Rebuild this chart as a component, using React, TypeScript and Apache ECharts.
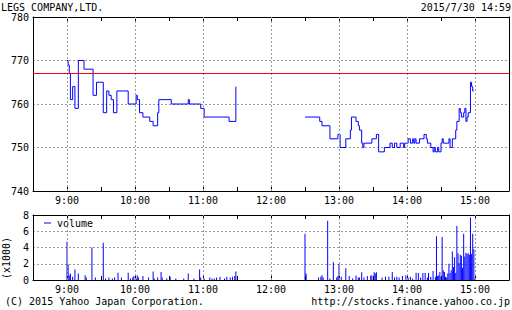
import { useEffect, useRef } from 'react';
import * as echarts from 'echarts';

const FONT = '"DejaVu Sans Mono", monospace';
const BASE = 540; // 9:00 expressed in minutes of the day

const titleText = 'LEGS COMPANY,LTD.';
const dateText = '2015/7/30 14:59';
const copyrightText = '(C) 2015 Yahoo Japan Corporation.';
const urlText = 'http://stocks.finance.yahoo.co.jp';

// [minutes after 9:00, price] at each change of price
const morningPrice: [number, number][] = [
  [0, 770], [1, 769], [2, 767], [3, 761], [5, 764], [7, 759], [10, 770], [15, 768],
  [23, 762], [26, 765], [32, 758], [35, 763], [37, 762], [39, 761], [41, 758], [44, 763],
  [54, 760], [61, 762], [62, 761], [64, 758], [67, 757], [73, 756], [76, 755], [80, 758],
  [81, 761], [92, 760], [107, 761], [108, 760], [118, 759], [121, 757], [143, 756], [149, 764],
];
const afternoonPrice: [number, number][] = [
  [210, 757], [223, 756], [225, 755], [232, 752], [239, 753], [241, 750], [246, 752], [250, 754],
  [251, 757], [255, 756], [257, 755], [258, 754], [260, 751], [261, 750], [262, 751], [269, 752],
  [273, 753], [275, 749], [280, 750], [285, 751], [287, 750], [289, 751], [291, 750], [294, 751],
  [297, 750], [298, 751], [301, 752], [303, 751], [305, 752], [306, 751], [307, 752], [308, 751],
  [311, 752], [315, 753], [317, 752], [318, 751], [321, 750], [323, 749], [324, 750], [325, 749],
  [327, 750], [328, 749], [330, 751], [331, 752], [332, 751], [337, 752], [338, 750], [340, 752],
  [343, 754], [344, 756], [346, 759], [347, 758], [348, 757], [350, 758], [351, 759], [352, 756],
  [353, 757], [354, 758], [356, 765], [357, 764], [358, 763], [359, 763],
];
const previousClose = 767;

// [minutes after 9:00, volume in thousands]
const volume: [number, number][] = [
  [0, 4.7], [1, 1.9], [2, 0.6], [3, 0.8], [5, 0.4], [7, 1.3], [10, 0.8], [16, 0.6], [17, 0.3],
  [22, 4.0], [25, 0.3], [32, 4.6], [34, 0.2], [37, 0.3], [40, 0.2], [42, 0.3], [45, 0.9],
  [48, 0.3], [54, 0.9], [56, 0.2], [58, 0.3], [59, 0.5], [61, 0.2], [62, 0.6], [63, 0.3],
  [67, 0.5], [72, 0.3], [76, 1.05], [77, 0.2], [80, 0.3], [83, 1.0], [84, 0.3], [88, 0.2],
  [91, 0.4], [96, 0.2], [103, 0.2], [107, 0.8], [112, 0.2], [117, 1.3], [118, 0.3], [121, 0.2],
  [126, 0.3], [128, 0.2], [130, 0.2], [132, 0.3], [135, 0.4], [139, 0.2], [141, 0.4], [144, 0.3],
  [146, 0.4], [148, 0.5], [149, 1.05],
  [210, 5.7], [211, 0.8], [222, 0.3], [224, 0.4], [225, 0.6], [226, 0.3], [230, 7.3], [232, 0.2],
  [235, 2.2], [238, 0.3], [239, 0.5], [240, 2.0], [242, 0.4], [246, 1.45], [249, 0.5], [252, 0.2],
  [255, 0.55], [257, 0.3], [258, 0.3], [260, 0.95], [262, 0.3], [265, 0.5], [268, 0.55],
  [269, 0.55], [271, 0.95], [272, 0.8], [273, 0.95], [278, 0.3], [281, 0.4], [284, 0.4],
  [287, 1.0], [289, 0.3], [291, 0.4], [293, 0.3], [296, 0.5], [299, 0.6], [301, 0.3], [303, 0.4],
  [305, 0.2], [308, 0.9], [310, 0.85], [312, 0.3], [314, 0.85], [316, 0.85], [318, 0.3],
  [319, 0.85], [321, 0.4], [323, 1.1], [325, 0.4], [326, 5.4], [327, 0.5], [328, 0.6], [329, 1.0],
  [330, 0.4], [331, 5.3], [332, 1.2], [333, 1.0], [334, 0.4], [335, 0.3], [336, 0.8], [337, 2.0],
  [338, 0.85], [339, 1.2], [340, 3.5], [341, 1.6], [342, 2.8], [343, 0.85], [344, 6.65],
  [345, 3.3], [346, 2.1], [347, 3.1], [348, 3.0], [349, 1.5], [350, 5.7], [351, 2.9], [352, 3.35],
  [353, 3.2], [354, 3.3], [355, 3.1], [356, 7.7], [357, 3.2], [358, 5.7], [359, 3.8], [360, 0.2],
];

const hourLines = [9, 10, 11, 12, 13, 14, 15];
const axisStart = 510; // 8:30
const axisEnd = 930; // 15:30

const GRID_COLOR = '#999999';
const BLUE = '#0000ff';

function xAxis(gridIndex: number, position: 'top' | 'bottom', showLabel: boolean) {
  return {
    type: 'value',
    gridIndex,
    position,
    min: axisStart,
    max: axisEnd,
    interval: 30,
    axisLine: { show: true, onZero: false, lineStyle: { color: '#000', width: 1 } },
    axisTick: { show: true, inside: true, length: 4, lineStyle: { color: '#000', width: 1 } },
    axisLabel: {
      show: showLabel,
      color: '#000',
      fontFamily: FONT,
      fontSize: 10,
      margin: 4,
      formatter: (v: number) => (v % 60 === 0 ? `${v / 60}:00` : ''),
    },
    splitLine: { show: false },
  };
}

function yAxis(gridIndex: number, position: 'left' | 'right', min: number, max: number, interval: number, showLabel: boolean) {
  return {
    type: 'value',
    gridIndex,
    position,
    min,
    max,
    interval,
    axisLine: { show: true, onZero: false, lineStyle: { color: '#000', width: 1 } },
    axisTick: { show: false },
    axisLabel: { show: showLabel, color: '#000', fontFamily: FONT, fontSize: 10, margin: 4 },
    splitLine: showLabel
      ? { show: true, lineStyle: { color: GRID_COLOR, type: [2, 2], width: 1 } }
      : { show: false },
  };
}

function hourMarkLine() {
  return {
    silent: true,
    symbol: ['none', 'none'],
    label: { show: false },
    lineStyle: { color: GRID_COLOR, type: [2, 2], width: 1 },
    data: hourLines.map((h) => ({ xAxis: h * 60 })),
  };
}

export default function App() {
  const ref = useRef<HTMLDivElement>(null);
  useEffect(() => {
    document.body.style.margin = '0';
    if (!ref.current) return;
    const chart = echarts.init(ref.current, undefined, { renderer: 'svg' });
    const toXY = (d: [number, number][]) => d.map(([t, v]) => [BASE + t, v]);
    chart.setOption({
      animation: false,
      textStyle: { fontFamily: FONT },
      grid: [
        { left: 33, top: 17, width: 478, height: 174, show: false },
        { left: 33, top: 215, width: 478, height: 65, show: false },
      ],
      xAxis: [
        xAxis(0, 'bottom', true),
        xAxis(0, 'top', false),
        xAxis(1, 'bottom', true),
        xAxis(1, 'top', false),
      ],
      yAxis: [
        yAxis(0, 'left', 740, 780, 10, true),
        yAxis(0, 'right', 740, 780, 10, false),
        yAxis(1, 'left', 0, 8, 2, true),
        yAxis(1, 'right', 0, 8, 2, false),
      ],
      legend: {
        left: 44,
        top: 218,
        padding: 0,
        icon: 'rect',
        itemWidth: 7,
        itemHeight: 1,
        itemGap: 5,
        data: ['volume'],
        textStyle: { color: '#000', fontFamily: FONT, fontSize: 10, padding: [0, 0, 0, 1] },
      },
      graphic: [
        { type: 'text', left: 1, top: 2, style: { text: titleText, font: `10px ${FONT}`, fill: '#000' } },
        { type: 'text', right: 1, top: 2, style: { text: dateText, font: `10px ${FONT}`, fill: '#000' } },
        { type: 'text', left: 5, top: 296, style: { text: copyrightText, font: `10px ${FONT}`, fill: '#000' } },
        { type: 'text', right: 2, top: 296, style: { text: urlText, font: `10px ${FONT}`, fill: '#000' } },
        {
          type: 'text',
          x: 6,
          y: 258,
          rotation: Math.PI / 2,
          style: { text: '(x1000)', font: `10px ${FONT}`, fill: '#000', align: 'center', verticalAlign: 'middle' },
        },
      ],
      series: [
        {
          type: 'line',
          name: 'grid-price',
          xAxisIndex: 0,
          yAxisIndex: 0,
          z: 1,
          data: [[BASE, 740]],
          symbol: 'none',
          lineStyle: { width: 0 },
          markLine: hourMarkLine(),
        },
        {
          type: 'line',
          name: 'grid-volume',
          xAxisIndex: 2,
          yAxisIndex: 2,
          z: 1,
          data: [[BASE, 0]],
          symbol: 'none',
          lineStyle: { width: 0 },
          markLine: hourMarkLine(),
        },
        {
          type: 'line',
          name: 'price-am',
          xAxisIndex: 0,
          yAxisIndex: 0,
          z: 3,
          step: 'end',
          symbol: 'none',
          data: toXY(morningPrice),
          lineStyle: { color: BLUE, width: 1 },
          itemStyle: { color: BLUE },
          markLine: {
            silent: true,
            symbol: ['none', 'none'],
            label: { show: false },
            lineStyle: { color: '#ff0000', type: 'solid', width: 1 },
            data: [{ yAxis: previousClose }],
          },
        },
        {
          type: 'line',
          name: 'price-pm',
          xAxisIndex: 0,
          yAxisIndex: 0,
          z: 3,
          step: 'end',
          symbol: 'none',
          data: toXY(afternoonPrice),
          lineStyle: { color: BLUE, width: 1 },
          itemStyle: { color: BLUE },
        },
        {
          type: 'bar',
          name: 'volume',
          xAxisIndex: 2,
          yAxisIndex: 2,
          z: 3,
          barWidth: 1,
          data: toXY(volume),
          itemStyle: { color: BLUE },
        },
      ],
    });
    return () => chart.dispose();
  }, []);
  return <div ref={ref} style={{ width: 512, height: 310 }} />;
}
